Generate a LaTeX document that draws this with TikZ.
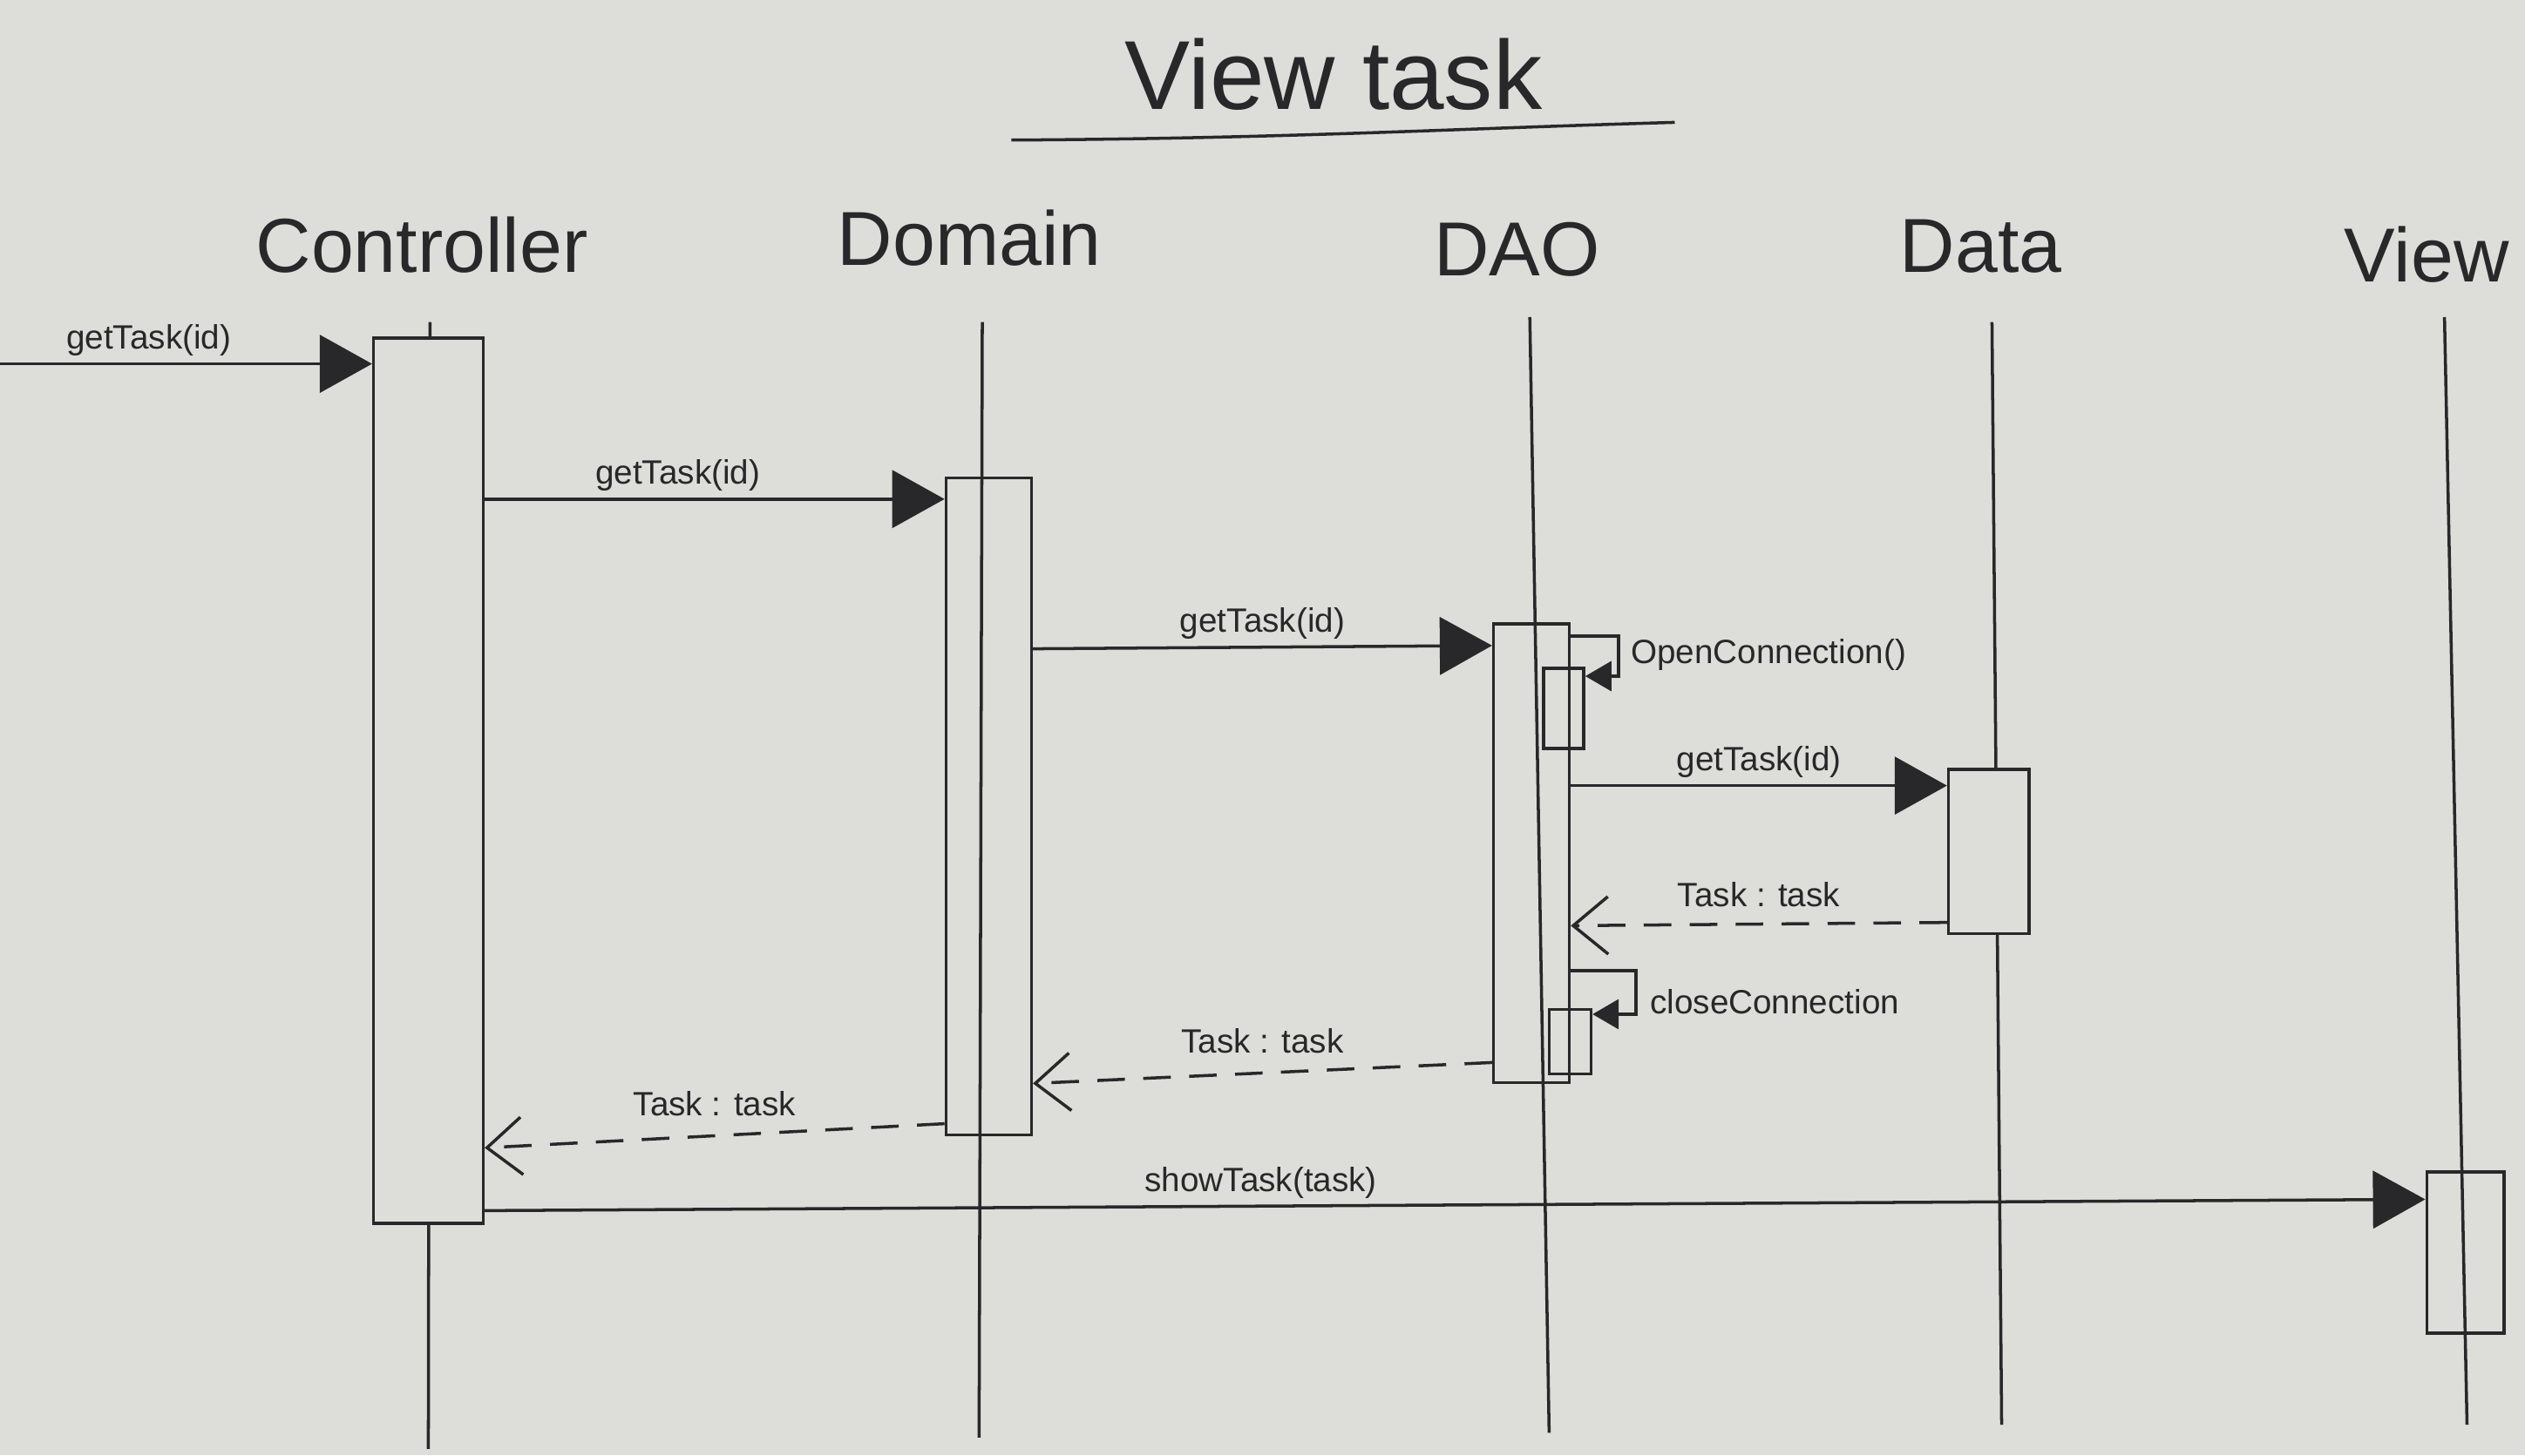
\documentclass[tikz,border=0pt]{standalone}
\usepackage{fontspec}
\setmainfont{Liberation Sans}
\usetikzlibrary{arrows.meta}
\definecolor{board}{RGB}{221,222,218}
\definecolor{ink}{RGB}{40,40,42}
\newcommand{\dpx}{0.018476cm}

\begin{document}
\begin{tikzpicture}[x=\dpx, y=-\dpx, color=ink, line width=1pt,
    >={Triangle[length=0.6cm,width=0.66cm]},
    head/.style={font=\fontsize{25}{30}\selectfont},
    msg/.style={font=\fontsize{11}{13}\selectfont, inner sep=2pt},
    actbox/.style={draw, rectangle, inner sep=0pt},
    solidbox/.style={actbox, fill=board},
    call/.style={->},
    selfcall/.style={-{Triangle[length=0.3cm,width=0.34cm]}},
    reply/.style={dash pattern=on 9pt off 6pt, -{Straight Barb[length=0.4cm,width=0.66cm]}}]
        % Board
        \fill[board] (0,0) rectangle (1568,904);
        \useasboundingbox (0,0) rectangle (1568,904);

        % Defining the coordinates
        \coordinate (ctrl-top) at (267,200);
        \coordinate (ctrl-bot) at (266,900);
        \coordinate (dom-top) at (610,200);
        \coordinate (dom-bot) at (608,893);
        \coordinate (dao-top) at (950,197);
        \coordinate (dao-bot) at (962,890);
        \coordinate (data-top) at (1237,200);
        \coordinate (data-bot) at (1243,885);
        \coordinate (view-top) at (1518,197);
        \coordinate (view-bot) at (1532,885);
        \coordinate (start) at (0,226);
        \coordinate (open-r) at (1005,395);
        \coordinate (close-r) at (1016,603);

        % Title
        \node[font=\fontsize{32}{38}\selectfont] (title) at (828,46) {View task};
        \draw (628,87) .. controls (800,86) and (900,80) .. (1040,76);

        % Lifelines
        \draw (ctrl-top) -- (ctrl-bot);
        \draw (dom-top) -- (dom-bot);
        \draw (dao-top) -- (dao-bot);
        \draw (data-top) -- (data-bot);
        \draw (view-top) -- (view-bot);

        % Activation boxes
        \node[solidbox, minimum width=68*\dpx, minimum height=550*\dpx] (ctrlbox) at (266,485) {};
        \node[actbox, minimum width=53*\dpx, minimum height=408*\dpx] (dombox) at (614,501) {};
        \node[actbox, minimum width=47*\dpx, minimum height=285*\dpx] (daobox) at (951,530) {};
        \node[actbox, minimum width=25*\dpx, minimum height=50*\dpx] (openbox) at (971,440) {};
        \node[solidbox, minimum width=50*\dpx, minimum height=102*\dpx] (databox) at (1235,529) {};
        \node[actbox, minimum width=26*\dpx, minimum height=40*\dpx] (closebox) at (975,647) {};
        \node[actbox, minimum width=48*\dpx, minimum height=100*\dpx] (viewbox) at (1531,778) {};

        % Drawing messages
        \draw[call] (start) -- node[msg, above, pos=0.4] {getTask(id)} (ctrlbox.west |- start);
        \draw[call] (ctrlbox.east |- 0,310) -- node[msg, above, pos=0.42] {getTask(id)} (dombox.west |- 0,310);
        \draw[call] (dombox.east |- 0,403) -- node[msg, above] {getTask(id)} (daobox.west |- 0,401);
        \draw[selfcall] (daobox.east |- open-r) -- (open-r) -- (open-r |- 0,420) -- (openbox.east |- 0,420);
        \draw[call] (daobox.east |- 0,488) -- node[msg, above] {getTask(id)} (databox.west |- 0,488);
        \draw[reply] (databox.west |- 0,573) -- node[msg, above, yshift=3pt] {Task : task} (daobox.east |- 0,575);
        \draw[selfcall] (daobox.east |- close-r) -- (close-r) -- (close-r |- 0,630) -- (closebox.east |- 0,630);
        \draw[reply] (daobox.west |- 0,660) -- node[msg, above, yshift=4pt] {Task : task} (dombox.east |- 0,673);
        \draw[reply] (dombox.west |- 0,698) -- node[msg, above, yshift=4pt] {Task : task} (ctrlbox.east |- 0,713);
        \draw[call] (ctrlbox.east |- 0,752) -- node[msg, above, pos=0.4] {showTask(task)} (viewbox.west |- 0,745);

        % Adding labels
        \node[head] (ctrl) at (262,152) {Controller};
        \node[head] (dom) at (602,148) {Domain};
        \node[head] (dao) at (942,155) {DAO};
        \node[head] (data) at (1230,153) {Data};
        \node[head] (view) at (1507,158) {View};
        \node[msg, right] (openlbl) at (1008,407) {OpenConnection()};
        \node[msg, right] (closelbl) at (1020,622) {closeConnection};
\end{tikzpicture}
\end{document}
